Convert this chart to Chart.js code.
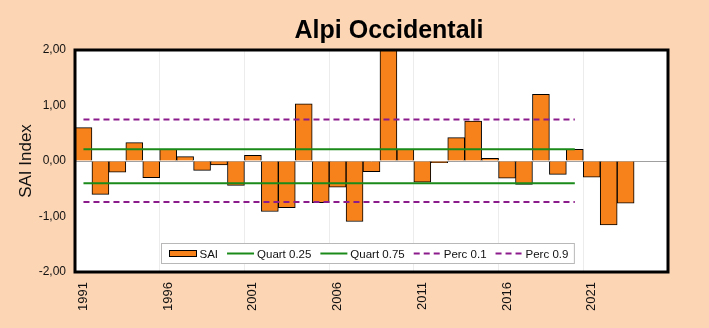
<!DOCTYPE html>
<html>
<head>
<meta charset="utf-8">
<script src="https://cdn.jsdelivr.net/npm/chart.js@4"></script>
<style>
  html, body { margin: 0; padding: 0; background: #fcd5b4; }
  canvas { display: block; }
</style>
</head>
<body>
<canvas id="saiChart" width="709" height="328"></canvas>
<script>
// Years on the x axis (two empty slots at the end)
const years = [];
for (let y = 1991; y <= 2025; y++) years.push(String(y));

// SAI index per year, 1991-2023
const sai = [0.60, -0.60, -0.20, 0.33, -0.30, 0.21, 0.08, -0.17, -0.07, -0.44,
             0.10, -0.91, -0.84, 1.03, -0.75, -0.47, -1.09, -0.19, 2.00, 0.21,
             -0.38, -0.03, 0.42, 0.72, 0.05, -0.31, -0.42, 1.20, -0.24, 0.21,
             -0.29, -1.15, -0.76];

// Reference period statistics (1991-2020)
const quart25 = -0.40;
const quart75 = 0.21;
const perc10 = -0.74;
const perc90 = 0.75;
const refYears = 30;

const yTicks = [-2, -1, 0, 1, 2];

function refLine(v) {
    return years.map((_, i) => (i < refYears ? v : null));
}

const colors = {
    bar: '#f7821b',
    quart: '#1a8a1a',
    perc: '#8b1a8b',
    bg: '#fcd5b4'
};

const FONT = '"Liberation Sans", Arial, sans-serif';

// Legend box drawn inside the plot, near the bottom
const insideLegend = {
    id: 'insideLegend',
    afterDraw(chart) {
        const ctx = chart.ctx;
        const area = chart.chartArea;
        const sw = 27, textGap = 3, gap = 9;
        ctx.save();
        ctx.font = '11.5px ' + FONT;
        const items = chart.data.datasets.map(ds => ({
            label: ds.label,
            ds: ds,
            w: sw + textGap + ctx.measureText(ds.label).width
        }));
        const total = 8 + 6 + items.reduce((a, it) => a + it.w, 0) + gap * (items.length - 1);
        const boxH = 20;
        const boxX = Math.round((area.left + area.right) / 2 - total / 2) - 4 + 0.5;
        const boxY = area.bottom - 9 - boxH + 0.5;
        ctx.fillStyle = '#ffffff';
        ctx.fillRect(boxX, boxY, total, boxH);
        ctx.strokeStyle = '#b8b8b8';
        ctx.lineWidth = 1;
        ctx.strokeRect(boxX, boxY, total, boxH);

        let x = boxX + 8;
        const cy = boxY + boxH / 2;
        items.forEach(it => {
            const ds = it.ds;
            if (ds.type === 'line') {
                ctx.beginPath();
                ctx.setLineDash(ds.borderDash || []);
                ctx.strokeStyle = ds.borderColor;
                ctx.lineWidth = 2;
                ctx.moveTo(x, cy);
                ctx.lineTo(x + sw, cy);
                ctx.stroke();
                ctx.setLineDash([]);
            } else {
                ctx.fillStyle = ds.backgroundColor;
                ctx.fillRect(x, cy - 3, sw, 6);
                ctx.strokeStyle = '#000';
                ctx.lineWidth = 1;
                ctx.strokeRect(x, cy - 3, sw, 6);
            }
            ctx.fillStyle = '#111';
            ctx.textBaseline = 'middle';
            ctx.textAlign = 'left';
            ctx.fillText(it.label, x + sw + textGap, cy + 1);
            x += it.w + gap;
        });
        ctx.restore();
    }
};

// White plot background, heavy frame and the title
const frame = {
    id: 'frame',
    beforeDraw(chart) {
        const a = chart.chartArea;
        const ctx = chart.ctx;
        ctx.save();
        ctx.fillStyle = colors.bg;
        ctx.fillRect(0, 0, chart.width, chart.height);
        ctx.fillStyle = '#ffffff';
        ctx.fillRect(a.left, a.top, a.right - a.left, a.bottom - a.top);
        ctx.restore();
    },
    afterDraw(chart) {
        const a = chart.chartArea;
        const ctx = chart.ctx;
        ctx.save();
        ctx.strokeStyle = '#000';
        ctx.lineWidth = 3;
        ctx.strokeRect(a.left, a.top, a.right - a.left, a.bottom - a.top);
        ctx.fillStyle = '#000';
        ctx.font = 'bold 25px ' + FONT;
        ctx.textAlign = 'center';
        ctx.textBaseline = 'alphabetic';
        ctx.fillText('Alpi Occidentali', 389, 38);
        ctx.restore();
    }
};

new Chart(document.getElementById('saiChart'), {
    data: {
        labels: years,
        datasets: [
            {
                type: 'bar',
                label: 'SAI',
                data: sai,
                backgroundColor: colors.bar,
                borderColor: '#000',
                borderWidth: 1,
                barPercentage: 1,
                categoryPercentage: 1,
                order: 2
            },
            {
                type: 'line',
                label: 'Quart 0.25',
                data: refLine(quart25),
                borderColor: colors.quart,
                borderWidth: 2,
                pointRadius: 0,
                order: 1
            },
            {
                type: 'line',
                label: 'Quart 0.75',
                data: refLine(quart75),
                borderColor: colors.quart,
                borderWidth: 2,
                pointRadius: 0,
                order: 1
            },
            {
                type: 'line',
                label: 'Perc 0.1',
                data: refLine(perc10),
                borderColor: colors.perc,
                borderWidth: 2,
                borderDash: [6, 4],
                pointRadius: 0,
                order: 1
            },
            {
                type: 'line',
                label: 'Perc 0.9',
                data: refLine(perc90),
                borderColor: colors.perc,
                borderWidth: 2,
                borderDash: [6, 4],
                pointRadius: 0,
                order: 1
            }
        ]
    },
    options: {
        responsive: false,
        animation: false,
        layout: {
            padding: { left: 16, right: 41, top: 50, bottom: 0 }
        },
        plugins: {
            legend: { display: false },
            title: { display: false },
            tooltip: { enabled: false }
        },
        scales: {
            x: {
                type: 'category',
                offset: true,
                border: { display: false },
                grid: {
                    offset: true,
                    drawTicks: false,
                    color: ctx => (ctx.index % 5 === 0 ? '#ececec' : 'transparent')
                },
                ticks: {
                    autoSkip: false,
                    maxRotation: 90,
                    minRotation: 90,
                    padding: 10,
                    color: '#111',
                    font: { family: FONT, size: 13 },
                    callback: function (value, index) {
                        return index % 5 === 0 ? this.getLabelForValue(value) : '';
                    }
                },
                afterFit: scale => { scale.height = 56; }
            },
            y: {
                min: -2,
                max: 2,
                border: { display: false },
                afterBuildTicks: scale => {
                    scale.ticks = yTicks.map(v => ({ value: v }));
                },
                grid: {
                    drawTicks: false,
                    color: ctx => (ctx.tick && ctx.tick.value === 0 ? '#a0a0a0' : 'transparent')
                },
                ticks: {
                    padding: 9,
                    color: '#111',
                    font: { family: FONT, size: 12 },
                    callback: v => v.toFixed(2).replace('.', ',')
                },
                title: {
                    display: true,
                    text: 'SAI Index',
                    color: '#111',
                    padding: { top: 0, bottom: 2 },
                    font: { family: FONT, size: 17 }
                },
                afterFit: scale => { scale.width = 59; }
            }
        }
    },
    plugins: [frame, insideLegend]
});
</script>
</body>
</html>
